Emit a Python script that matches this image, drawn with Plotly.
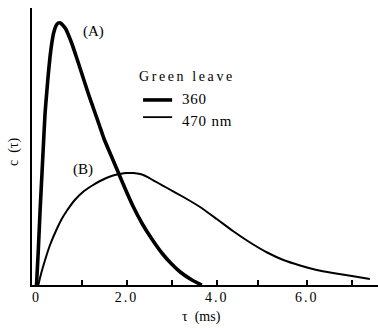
import plotly.graph_objects as go

# Curve A (360 nm, thick)
tau_a = [0.0, 0.04, 0.08, 0.12, 0.15, 0.19, 0.23, 0.26, 0.30, 0.34, 0.38, 0.43, 0.48, 0.53, 0.58,
         0.65, 0.70, 0.78, 0.90, 1.03, 1.16, 1.30, 1.40, 1.50, 1.66, 1.82, 1.98, 2.14, 2.35, 2.56,
         2.80, 3.00, 3.19, 3.45, 3.67]
c_a = [0, 35, 75, 110, 137, 172, 194, 210, 228, 242, 252, 259, 262, 262, 260,
       256, 251, 242, 226, 208, 190, 172, 159, 146, 129, 112, 95, 79, 61, 46,
       31, 21, 13, 5, 0]

# Curve B (470 nm, thin)
tau_b = [0.04, 0.10, 0.19, 0.30, 0.45, 0.56, 0.67, 0.85, 1.03, 1.22, 1.41, 1.55, 1.70, 1.85,
         2.00, 2.15, 2.30, 2.42, 2.52, 2.70, 2.90, 3.26, 3.63, 4.00, 4.36, 4.74, 5.12, 5.48,
         5.85, 6.22, 6.58, 7.00, 7.40]
c_b = [0, 11, 25, 40, 56, 66, 74, 85, 93, 99, 104, 107, 109.5, 111,
       112, 112, 111, 109, 106.5, 102, 97, 88, 78, 66, 54, 42.5, 32.5, 25,
       19.5, 15, 12, 9, 6]

tick_vals = [0, 1, 2, 3, 4, 4.92, 6, 7]
tick_labels = ["0", "", "2.0", "", "4.0", "", "6.0", ""]

FAM = "Liberation Serif"
FONT = "Liberation Serif, Times New Roman, serif"


def spaced(s, px):
    return (f'<span style="font-family:{FAM};letter-spacing:{px}px">{s}</span>' if s else "")


fig = go.Figure()
fig.add_trace(go.Scatter(x=tau_a, y=c_a, mode="lines",
                         line=dict(color="black", width=3.6, shape="spline", smoothing=0.5),
                         showlegend=False))
fig.add_trace(go.Scatter(x=tau_b, y=c_b, mode="lines",
                         line=dict(color="black", width=2, shape="spline", smoothing=0.5),
                         showlegend=False))

fig.update_layout(
    width=378, height=328,
    margin=dict(l=32, r=0, t=8, b=43),
    paper_bgcolor="white", plot_bgcolor="white",
    font=dict(family=FONT, size=14, color="black"),
    xaxis=dict(range=[-0.1, 7.58], showgrid=False, zeroline=False,
               showline=True, linecolor="black", linewidth=2,
               ticks="inside", ticklen=5, tickwidth=1.5, tickcolor="black",
               tickvals=tick_vals, ticktext=[spaced(t, 2) for t in tick_labels],
               tickfont=dict(family=FONT, size=14), ticklabelstandoff=-2),
    yaxis=dict(range=[0, 277], showgrid=False, zeroline=False,
               showline=True, linecolor="black", linewidth=2,
               showticklabels=False, ticks=""),
)

ann = [
    dict(x=1.27, y=254, xref="x", yref="y", text="(A)", showarrow=False,
         font=dict(size=15)),
    dict(x=1.03, y=116, xref="x", yref="y", text="(B)", showarrow=False,
         font=dict(size=15)),
    dict(x=0.303, y=0.754, xref="paper", yref="paper", xanchor="left", yanchor="middle",
         text=spaced("Green leave", 2.6), showarrow=False, font=dict(size=14)),
    dict(x=0.428, y=0.670, xref="paper", yref="paper", xanchor="left", yanchor="middle",
         text=spaced("360", 0.8), showarrow=False, font=dict(size=15)),
    dict(x=0.428, y=0.592, xref="paper", yref="paper", xanchor="left", yanchor="middle",
         text=spaced("470 nm", 0.8), showarrow=False, font=dict(size=15)),
    dict(x=0.49, y=-0.115, xref="paper", yref="paper", xanchor="center", yanchor="middle",
         text="τ  (ms)", showarrow=False, font=dict(size=14)),
    dict(x=-0.052, y=0.48, xref="paper", yref="paper", xanchor="center", yanchor="middle",
         text="c  (τ)", textangle=-90, showarrow=False, font=dict(size=14)),
]
fig.update_layout(annotations=ann)

fig.add_shape(type="line", xref="paper", yref="paper", x0=0.321, x1=0.405, y0=0.668, y1=0.668,
              line=dict(color="black", width=3.6))
fig.add_shape(type="line", xref="paper", yref="paper", x0=0.321, x1=0.405, y0=0.606, y1=0.606,
              line=dict(color="black", width=1.8))

fig.write_html("out.html")
